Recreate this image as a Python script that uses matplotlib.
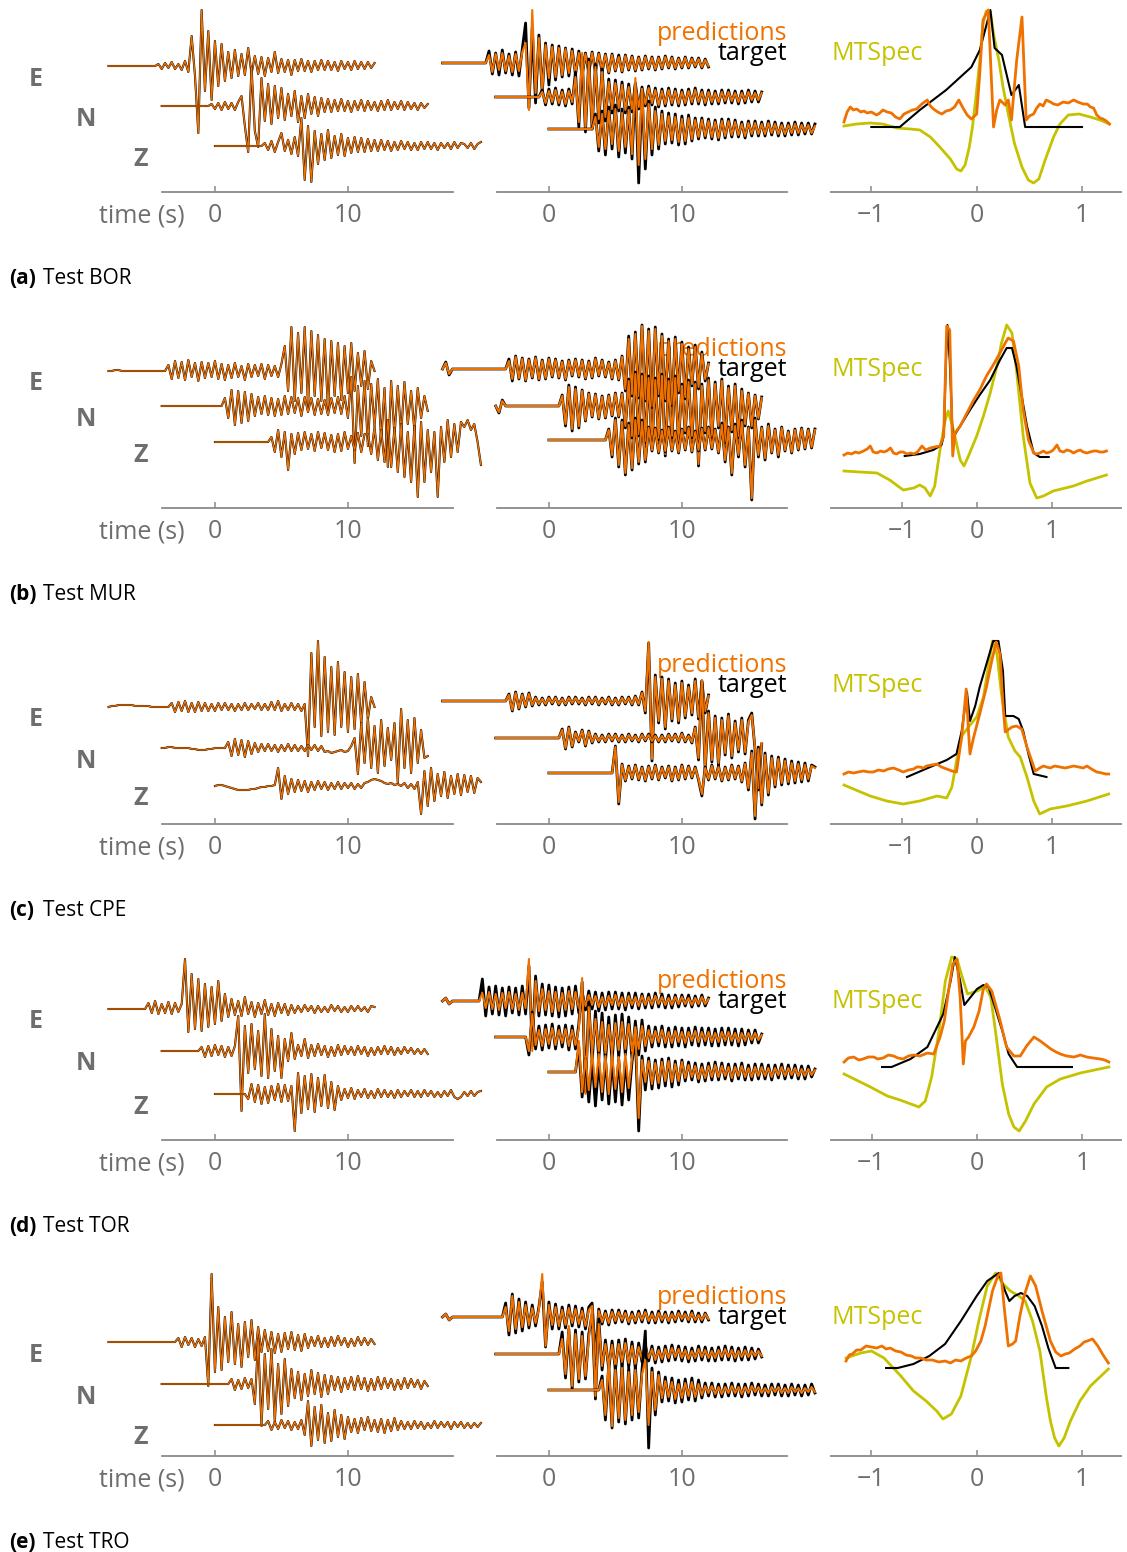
import numpy as np
import matplotlib.pyplot as plt

plt.rcParams['font.family'] = ['Open Sans', 'DejaVu Sans']

ORANGE = '#ef7100'
YELLOW = '#c5c300'
GREY = '#6e6e6e'
SPINE = '#8a8a8a'

W, H = 1127, 1552
DT = 0.25                  # sample spacing of the traces (s)
START = [-8.0, -4.0, 0.0]  # first sample time of E, N, Z

stations = ['BOR', 'MUR', 'CPE', 'TOR', 'TRO']
letters = ['a', 'b', 'c', 'd', 'e']

# ---------------- BOR ----------------
bor_wave = [
    [0, 0, 0, 0, 0, 0, 0, 0, 0, 0, 0, 0, 0, 0, 0,
     2, -3, 3, -2, 4, -3, 2, -4, 5, -6, 30, -10, -67, 56, -25, 35, -34, 25, -20, 22,
     -15, 14, -12, 16, -10, 12, -9, 18, -8, 10, -8, 9, -10, 8, -6, 14, -7, 7, -6, 6,
     -9, 6, -5, 7, -5, 5, -6, 5, -4, 6, -4, 5, -4, 4, -5, 5, -3, 4, -4, 5, -3, 4, -3, 4, -2, 3],
    [0, 0, 0, 0, 0, 0, 0, 0, 0, 0, 0, 0, 0, 0, 0,
     2, -3, 3, -4, 4, -3, 3, -4, 4, 10, -20, -46, 39, -25, -41, 28, -15, 22, -18,
     20, -12, 18, -14, 12, -10, 15, -16, 10, -12, 12, -8, 9, -10, 8, -6, 7, -6, 6, -5,
     7, -5, 5, -6, 5, -4, 6, -5, 5, -4, 4, -5, 5, -4, 6, -4, 4, -3, 5, -4, 4, -3, 3, -4, 3, -2, 2],
    [0, 0, 0, 0, 0, 0, 0, 0, 0, 0, 0, 0, 0, 0, 0,
     3, -4, 5, -6, 4, 13, -5, 6, -8, 9, -10, 28, -34, 20, -36, 15, -18, 12, -14, 16,
     -12, 10, -9, 12, -10, 8, -7, 9, -6, 8, -6, 7, -5, 6, -5, 6, -4, 5, -5, 4,
     -4, 5, -3, 4, -4, 3, -4, 4, -3, 4, -3, 3, -4, 3, -2, 3, -3, 4, -2, 3, 2, -2, 3, -3, 2, 4],
]
bor_pred = [
    [0, 0, 0, 0, 0, 0, 0, 0, 0, 0, 0, 0, 0, 0,
     8, -9, 9, -7, 10, -8, 7, -9, 9, -8, 11, 20, -47, 53, -30, 25, -28, 18, -15, 16, -14,
     15, -12, 14, -10, 12, -11, 10, -12, 9, -8, 10, -8, 9, -7, 8, -9, 8, -7, 6, -8,
     7, -6, 6, -7, 5, -6, 6, -5, 5, -6, 5, -5, 6, -4, 5, -5, 4, -4, 5, -4, 4, -3, 4, -4, 3, -3],
    [0, 0, 0, 0, 0, 0, 0, 0, 0, 0, 0, 0, 0, 0,
     5, -6, 6, -5, 7, -6, 5, -7, 6, -5, 20, -25, 44, -31, 35, -28, 30, -22, 25, -20,
     15, -12, 14, -11, 12, -13, 10, -12, 11, -10, 8, -7, 9, -6, 7, -8, 6, -7, 7, -6,
     6, -7, 5, -6, 6, -5, 7, -5, 5, -6, 5, -5, 4, -5, 5, -4, 5, -4, 4, -5, 4, -4, 5, -3, 4, -3, 4],
    [0, 0, 0, 0, 0, 0, 0, 0, 0, 0, 0, 0, 0, 0,
     12, -18, 15, -20, 18, -15, 20, -22, 16, -18, 19, -25, 51, -36, 40, -30, 25, -20, 18, -16, 15,
     -12, 13, -11, 12, -13, 10, -12, 11, -10, 9, -8, 9, -7, 8, -8, 7, -9, 8, -7, 8,
     -6, 7, -6, 5, -7, 6, -5, 6, -5, 5, -5, 6, -4, 5, -5, 4, -5, 4, -4, 5, -4, 4, -3, 4, -4, 3],
]
bor_true = [
    [0, 0, 0, 0, 0, 0, 0, 0, 0, 0, 0, 0, 0, 0,
     12, -11, 10, -12, 13, -10, 9, -12, 11, -13, 14, 40, -45, 35, -40, 28, -30, 20, -22, 18, -17,
     17, -14, 15, -13, 14, -12, 12, -13, 10, -10, 11, -9, 10, -9, 9, -10, 9, -8, 8, -9,
     8, -7, 7, -8, 6, -7, 7, -6, 6, -7, 6, -6, 7, -5, 6, -6, 5, -5, 6, -5, 5, -4, 5, -5, 4, -4],
    [0, 0, 0, 0, 0, 0, 0, 0, 0, 0, 0, 0, 0, 0,
     7, -8, 8, -7, 9, -8, 7, -9, 8, -7, 25, -30, 40, -35, 38, -32, 33, -26, 28, -24,
     18, -16, 17, -14, 15, -16, 13, -15, 14, -12, 10, -9, 11, -8, 9, -10, 8, -9, 9, -8,
     8, -9, 7, -8, 8, -7, 9, -7, 7, -8, 7, -7, 6, -7, 7, -6, 7, -6, 6, -7, 6, -6, 7, -5, 6, -5, 5],
    [0, 0, 0, 0, 0, 0, 0, 0, 0, 0, 0, 0, 0, 0,
     15, -22, 18, -26, 22, -20, 24, -28, 20, -24, 22, -30, 45, -54, 38, -40, 28, -26, 22, -20, 18,
     -15, 16, -14, 15, -16, 13, -15, 14, -12, 11, -10, 11, -9, 10, -10, 9, -11, 10, -9, 10,
     -8, 9, -8, 7, -9, 8, -7, 8, -7, 7, -7, 8, -6, 7, -7, 6, -7, 6, -6, 7, -6, 6, -5, 6, -5, 5],
]
bor_true_lag = [-1.0, -0.73, -0.54, -0.29, -0.05, 0.03, 0.13, 0.17, 0.24, 0.33, 0.40, 0.46, 1.0]
bor_true_xc = [65, 65, 82, 102, 125, 142, 182, 144, 137, 97, 107, 65, 65]
bor_pred_lag = [-1.26, -1.23, -1.2, -1.17, -1.14, -1.1, -1.07, -1.04, -1.0, -0.95,
                -0.92, -0.89, -0.85, -0.81, -0.77, -0.73, -0.69, -0.65, -0.61, -0.57,
                -0.52, -0.47, -0.44, -0.41, -0.37, -0.33, -0.29, -0.25, -0.21, -0.17,
                -0.13, -0.09, -0.05, 0.0, 0.03, 0.06, 0.11, 0.16, 0.19, 0.22,
                0.27, 0.3, 0.33, 0.38, 0.43, 0.47, 0.5, 0.54, 0.57, 0.6,
                0.63, 0.66, 0.7, 0.73, 0.77, 0.82, 0.87, 0.92, 0.96, 1.01,
                1.05, 1.08, 1.11, 1.14, 1.17, 1.2, 1.23, 1.26]
bor_pred_xc = [70, 80, 85, 82, 83, 80, 81, 79, 80, 77,
               79, 82, 80, 79, 75, 73, 78, 80, 82, 83,
               88, 92, 86, 83, 80, 78, 81, 82, 85, 92,
               84, 77, 73, 78, 120, 172, 182, 65, 82, 92,
               87, 92, 72, 132, 175, 72, 76, 78, 84, 88,
               86, 92, 90, 88, 87, 90, 89, 92, 90, 88,
               88, 85, 84, 77, 74, 73, 71, 68]
bor_mt_lag = [-1.26, -1.14, -1.01, -0.89, -0.76, -0.63, -0.54, -0.44, -0.35, -0.25, -0.19,
              -0.15, -0.11, -0.07, -0.04, -0.01, 0.03, 0.06, 0.09, 0.13, 0.16, 0.21, 0.25,
              0.30, 0.36, 0.43, 0.49, 0.54, 0.59, 0.65, 0.73, 0.79, 0.87, 0.97, 1.08, 1.17, 1.26]
bor_mt = [66, 68, 69, 68, 64, 63, 62, 55, 45, 33, 23, 21, 27, 45, 65, 92, 132, 168, 181, 180,
          158, 132, 105, 78, 48, 25, 12, 9, 13, 32, 55, 68, 77, 78, 75, 72, 68]

# ---------------- MUR ----------------
mur_wave = [
    [0, 0, 1, 1, 0, 0, 0, 0, 0, 0, 0, 0, 0, 0, 0, 0, 0, 0,
     6, -8, 10, -7, 9, -9, 11, -6, 8, -10, 9, -7, 8, -6, 10, -8, 7, -9, 6, -7,
     8, -6, 5, -9, 7, -6, 6, -5, 7, -8, 6, -5, 5, -6, 7,
     25, -20, 44, -30, 38, -22, 44, -35, 40, -25, 36, -30, 32, -39, 30, -25, 28, -29, 25, -22,
     28, -20, 18, -15, 20, -18, 10, 0],
    [0, 0, 0, 0, 0, 0, 0, 0, 0, 0, 0, 0, 0, 0, 0, 0, 0, 0, 0,
     8, -12, 16, -19, 15, -17, 14, -15, 12, -10, 9, -8, 10, -9, 8, -10, 7, -9, 10,
     -8, 9, -7, 8, -10, 9, -6, 8, -9, 7, -8, 6, -9, 8, -7, 9, -8, 10,
     -12, 29, -57, 20, -30, 25, -40, 22, -20, 27, -35, 18, -61, 25, -30, 20, -28, 24, -18, 15,
     -25, 18, -12, 10, -5],
    [0, 0, 0, 0, 0, 0, 0, 0, 0, 0, 0, 0, 0, 0, 0, 0, 0,
     5, -10, 12, -15, 10, -28, 8, -12, 9, -8, 10, -7, 8, -9, 10, -6, 9, -8, 7, -10,
     8, -9, 10, -7, 6, -8, 9, -10, 8,
     8, -12, 15, -18, 12, -20, 22, -25, 14, -30, 18, -35, 10, -40, 16, -55, 20, -40, 12, -30,
     10, -55, 15, -20, 22, -15, 18, -10, 20, 15, 22, 12, 18, 0, -23],
]
mur_pred = [
    [0, 6, -5, 0, 0, 0, 0, 0, 0, 0, 0, 0, 0, 0, 0, 0, 0, 0, 0, 0,
     8, -10, 12, -9, 10, -11, 9, -8, 11, -10, 8, -9, 10, -7, 9, -8, 7, -10, 8, -6,
     9, -7, 8, -9, 7, -8, 10, -6, 8, -7, 6, -9, 8, -10, 12,
     -20, 30, -25, 35, -27, 43, -30, 38, -37, 40, -25, 33, -30, 28, -35, 30, -22, 25, -28, 20,
     -15, 22, -18, 15, -10, 5],
    [0, -6, 5, 0, 0, 0, 0, 0, 0, 0, 0, 0, 0, 0, 0, 0, 0, 0, 0, 0,
     10, -18, 19, -23, 17, -20, 15, -14, 12, -10, 11, -12, 9, -11, 10, -9, 12, -10, 12,
     -20, 25, -30, 32, -28, 30, -35, 28, -40, 26, -32, 30, -48, 25, -30, 28, -35, 20, -25, 24,
     -30, 22, -58, 20, -25, 26, -30, 22, -20, 25, -35, 18, -24, 20, -30, 15, -18, 12, -20, 10,
     -12, 8],
    [0, 0, 0, 0, 0, 0, 0, 0, 0, 0, 0, 0, 0, 0, 0, 0, 0, 0,
     10, -15, 20, -25, 18, -33, 15, -28, 20, -22, 18, -20, 12, -10, 11, -12, 9, -11, 12, -10,
     8, -12, 10, -9, 12, -11, 8, -10, 11, -9, 12, -8, 10, -12, 15, -20, 12, -33, 14, -15,
     18, -25, 12, -58, 20, -15, 12, -18, 14, -12, 10, -15, 12, -10, 8, -12, 10, -9, 11, -8,
     10, -7, 10],
]
mur_true = [
    [0, 7, -6, 0, 0, 0, 0, 0, 0, 0, 0, 0, 0, 0, 0, 0, 0, 0, 0, 0,
     10, -12, 13, -10, 11, -12, 10, -9, 12, -11, 9, -10, 11, -8, 10, -9, 8, -11, 9, -7,
     10, -8, 9, -10, 8, -9, 11, -7, 9, -8, 7, -10, 9, -11, 13,
     -22, 33, -27, 37, -29, 44, -32, 40, -39, 42, -27, 35, -32, 30, -37, 32, -24, 27, -30, 22,
     -17, 24, -20, 17, -12, 6],
    [0, -7, 6, 0, 0, 0, 0, 0, 0, 0, 0, 0, 0, 0, 0, 0, 0, 0, 0, 0,
     11, -20, 21, -25, 19, -22, 16, -15, 13, -11, 12, -13, 10, -12, 11, -10, 13, -11, 13,
     -22, 27, -32, 34, -30, 32, -37, 30, -42, 28, -34, 32, -50, 27, -32, 30, -37, 22, -27, 26,
     -32, 24, -60, 22, -27, 28, -32, 24, -22, 27, -37, 20, -26, 22, -32, 17, -20, 13, -22, 11,
     -13, 9],
    [0, 0, 0, 0, 0, 0, 0, 0, 0, 0, 0, 0, 0, 0, 0, 0, 0, 0,
     11, -17, 22, -27, 20, -35, 17, -30, 22, -24, 20, -22, 13, -11, 12, -13, 10, -12, 13, -11,
     9, -13, 11, -10, 13, -12, 9, -11, 12, -10, 13, -9, 11, -13, 17, -22, 13, -35, 16, -17,
     20, -27, 13, -60, 22, -17, 13, -20, 16, -13, 11, -17, 13, -11, 9, -13, 11, -10, 12, -9,
     11, -8, 11],
]
mur_true_lag = [-0.96, -0.76, -0.58, -0.47, -0.44, -0.41, -0.39, -0.36, -0.32, -0.22, -0.09,
                0.04, 0.18, 0.31, 0.4, 0.47, 0.53, 0.6, 0.67, 0.76, 0.84, 0.96]
mur_true_xc = [52, 54, 58, 63, 72, 148, 183, 148, 70, 82, 98, 113, 128, 148, 160, 160, 142,
               112, 82, 55, 51, 51]
mur_pred_lag = [-1.77, -1.72, -1.67, -1.62, -1.57, -1.51, -1.46, -1.42, -1.38, -1.33,
                -1.28, -1.24, -1.2, -1.15, -1.11, -1.07, -1.02, -0.98, -0.93, -0.88,
                -0.84, -0.79, -0.73, -0.68, -0.62, -0.56, -0.49, -0.44, -0.4, -0.36,
                -0.32, -0.29, -0.22, -0.13, -0.04, 0.04, 0.13, 0.22, 0.31, 0.38,
                0.42, 0.49, 0.56, 0.62, 0.69, 0.76, 0.8, 0.84, 0.89, 0.93,
                0.98, 1.02, 1.07, 1.11, 1.16, 1.2, 1.25, 1.29, 1.34, 1.38,
                1.42, 1.47, 1.51, 1.56, 1.6, 1.64, 1.69, 1.73]
mur_pred_xc = [53, 55, 54, 56, 55, 57, 59, 62, 56, 55,
               57, 56, 57, 60, 55, 54, 56, 56, 54, 55,
               54, 56, 62, 58, 60, 61, 62, 72, 182, 178,
               52, 75, 82, 95, 108, 118, 132, 143, 155, 165,
               170, 167, 142, 98, 68, 55, 54, 55, 57, 55,
               56, 58, 63, 57, 56, 58, 57, 55, 57, 58,
               56, 55, 56, 57, 57, 56, 56, 57]
mur_mt_lag = [-1.77, -1.56, -1.33, -1.16, -0.98, -0.84, -0.76, -0.69, -0.62, -0.56, -0.49,
              -0.42, -0.38, -0.31, -0.22, -0.17, -0.11, 0.0, 0.09, 0.18, 0.27, 0.33, 0.4,
              0.47, 0.53, 0.62, 0.71, 0.8, 0.89, 1.02, 1.29, 1.47, 1.73]
mur_mt = [37, 36, 35, 28, 18, 20, 23, 20, 12, 22, 58, 88, 97, 78, 48, 42, 52, 72, 92, 115,
          142, 165, 183, 175, 138, 72, 25, 10, 12, 17, 22, 27, 33]

# ---------------- CPE ----------------
cpe_wave = [
    [0, 1, 1, 2, 2, 2, 2, 2, 1, 1, 1, 1, 1, 0, 0, 0, 0, 0, 0,
     4, -5, 5, -4, 6, -5, 4, -5, 5, -4, 4, -4, 3, -4, 4, -3, 4, -3, 3, -4,
     3, -3, 4, -3, 3, -2, 4, -3, 3, -3, 5, -3, 6, -4, 3, -3, 4, -3, 3, -4, 3,
     -49, 54, -20, 66, -29, 50, -25, 40, -28, 45, -20, 35, -25, 30, -22, 33, -18, 25, -12, 10, 0],
    [0, 0, 1, 1, 0, 0, 0, 0, 0, -1, -1, -2, -2, -2, -1, -1, 0, 0, 0, 0,
     6, -8, 9, -7, 8, -9, 7, -6, 5, -4, 4,
     -3, 4, -3, 3, -4, 3, -3, 4, -3, 3, -3, 2, -3, 3, -2, 3, -3, 2, -4, -3,
     -5, -4, -3, -2, -4, -3, 2,
     10, -26, 25, -15, 30, -20, 22, -25, 28, -18, 20, -12, 25, -35, 39, -20, 28, -25, 30, -15,
     18, -10, -8],
    [0, 1, 1, 0, -1, -2, -3, -4, -4, -4, -4, -3, -3, -2, -1, -1, 0, 0, 1,
     18, -13, 10, -8, 7, -6, 6, -5, 5, -6, 4, -4, 5, -3, 4, -4, 3, -3, 4, -3,
     3, -2, 3, -3, 2, -2, 3, 4, 6, 7, 6, 5, 3, 2, 3, 1, 2, 0, 3, -2, 2, -3, 4,
     -28, 15, -20, 18, -15, 12, -10, 14, -12, 10, -8, 12, -9, 11, -6, 10, -7, 8, 4],
]
cpe_pred = [
    [0, 0, 0, 0, 0, 0, 0, 0, 0, 0, 0, 0, 0, 0, 0, 0, 0, 0, 0, 0,
     6, -9, 8, -7, 6, -5, 7, -4, 3,
     -3, 2, -3, 3, -2, 3, -3, 2, -3, 3, -2, 3, -2, 2, -3, 3, -2, 3, -3, 2,
     -2, 3, -3, 2, -3, 3, -2, 3, -3, 4, -3,
     8, -10, 59, -58, 24, -20, 22, -26, 20, -18, 16, -20, 18, -15, 14, -12, 20, -16, 18, -10, 5],
    [0, 0, 0, 0, 0, 0, 0, 0, 0, 0, 0, 0, 0, 0, 0, 0, 0, 0, 0, 0,
     8, -10, 10, -8, 5, -3, 7, -7, 6, -4,
     3, -3, 2, -3, 3, -2, 3, -3, 2, -3, 3, -2, 2, -3, 3, -2, 3, -3, 2, -3,
     2, -3, 3, -2, 3, -3, 4, -3, 2, -4,
     10, -20, 58, -30, 25, -22, 20, -25, 18, -15, 22, -18, 15, -12, 18, -14, 16, 23, -10, -50, -5],
    [0, 0, 0, 0, 0, 0, 0, 0, 0, 0, 0, 0, 0, 0, 0, 0, 0, 0, 0, 0,
     26, -29, 8, -7, 6, -5, 7, -6, 5, -7, 6, -5, 7, -6, 5, -4, 6, -7, 5, -6,
     7, -5, 6, -4, 5, -6, -21, 5, -6, 7, -5, 6, -7, 5, -6, 7, -5, 6, -8, 9,
     -15, 20, -43, 24, -30, 18, -20, 15, -12, 14, -10, 12, -9, 10, -8, 9, -7, 8, -6, 7, 5],
]
cpe_true = [
    [0, 0, 0, 0, 0, 0, 0, 0, 0, 0, 0, 0, 0, 0, 0, 0, 0, 0, 0, 0,
     7, -10, 9, -8, 7, -6, 8, -5, 4,
     -4, 3, -4, 4, -3, 4, -4, 3, -4, 4, -3, 4, -3, 3, -4, 4, -3, 4, -4, 3,
     -3, 4, -4, 3, -4, 4, -3, 4, -4, 5, -4,
     9, -12, 58, -60, 26, -22, 24, -28, 22, -20, 18, -22, 20, -17, 16, -14, 22, -18, 20, -12, 6],
    [0, 0, 0, 0, 0, 0, 0, 0, 0, 0, 0, 0, 0, 0, 0, 0, 0, 0, 0, 0,
     9, -11, 11, -9, 6, -4, 8, -8, 7, -5,
     4, -4, 3, -4, 4, -3, 4, -4, 3, -4, 4, -3, 3, -4, 4, -3, 4, -4, 3, -4,
     3, -4, 4, -3, 4, -4, 5, -4, 3, -5,
     11, -22, 57, -32, 27, -24, 22, -27, 20, -17, 24, -20, 17, -14, 20, -16, 18, 25, -12, -52, -6],
    [0, 0, 0, 0, 0, 0, 0, 0, 0, 0, 0, 0, 0, 0, 0, 0, 0, 0, 0, 0,
     27, -31, 9, -8, 7, -6, 8, -7, 6, -8, 7, -6, 8, -7, 6, -5, 7, -8, 6, -7,
     8, -6, 7, -5, 6, -7, -23, 6, -7, 8, -6, 7, -8, 6, -7, 8, -6, 7, -9, 10,
     -17, 22, -46, 26, -32, 20, -22, 17, -14, 16, -12, 14, -11, 12, -10, 11, -9, 10, -8, 8, 6],
]
cpe_true_lag = [-0.93, -0.62, -0.4, -0.27, -0.2, -0.13, -0.09, -0.02, 0.04, 0.13, 0.22, 0.29,
                0.35, 0.38, 0.49, 0.56, 0.62, 0.69, 0.76, 0.93]
cpe_true_xc = [47, 57, 64, 70, 93, 132, 103, 118, 137, 160, 183, 183, 153, 108, 108, 105, 93,
               70, 50, 47]
cpe_pred_lag = [-1.77, -1.71, -1.64, -1.58, -1.51, -1.44, -1.38, -1.31, -1.24, -1.18,
                -1.11, -1.04, -0.98, -0.91, -0.84, -0.8, -0.76, -0.71, -0.67, -0.6,
                -0.53, -0.47, -0.4, -0.33, -0.27, -0.2, -0.14, -0.11, -0.09, -0.04,
                0.04, 0.13, 0.2, 0.26, 0.31, 0.35, 0.38, 0.47, 0.53, 0.6,
                0.67, 0.78, 0.84, 0.89, 0.93, 0.98, 1.04, 1.11, 1.18, 1.24,
                1.29, 1.36, 1.42, 1.47, 1.53, 1.6, 1.67, 1.72, 1.76]
cpe_pred_xc = [50, 52, 51, 52, 53, 52, 52, 54, 53, 55,
               56, 54, 52, 54, 55, 57, 57, 56, 58, 59,
               60, 57, 55, 53, 52, 87, 135, 93, 70, 87,
               110, 137, 163, 182, 170, 120, 92, 97, 98, 95,
               77, 53, 56, 58, 57, 56, 58, 57, 56, 57,
               58, 57, 56, 58, 55, 52, 51, 50, 50]
cpe_mt_lag = [-1.77, -1.42, -1.2, -0.98, -0.76, -0.53, -0.4, -0.33, -0.27, -0.2, -0.11, 0.0,
              0.09, 0.16, 0.21, 0.27, 0.33, 0.42, 0.51, 0.58, 0.67, 0.76, 0.84, 0.98, 1.2,
              1.47, 1.76]
cpe_mt = [39, 28, 23, 20, 23, 28, 26, 37, 63, 88, 97, 107, 127, 160, 183, 170, 130, 87, 73,
          67, 47, 23, 10, 15, 18, 23, 30]

# ---------------- TOR ----------------
tor_wave = [
    [0, 0, 0, 0, 0, 0, 0, 0, 0, 0, 0, 0,
     6, -4, 8, -5, 5, -4, 7, -5, 6, -3, 5,
     50, -23, 35, -20, 30, -22, 25, -18, 22, -15, 28, -12, 15,
     -8, 10, -6, 8, -7, 12, -5, 7, -8, 6, -5, 9, -6, 5, -7, 6, -4, 5, -6, 4,
     -4, 3, -3, 4, -2, 3, -4, 3, -3, 2, -3, 4, -2, 3, -3, 2, -3, 3, -2, 3, -2, 2, -3, 3, 2],
    [0, 0, 0, 0, 0, 0, 0, 0, 0, 0, 0, 0,
     4, -6, 5, -5, 6, -4, 5, -6, 4, -5, 5,
     35, -60, 25, -22, 27, -18, 20, -25, 37, -27, 22, -20, 15, -27, 12,
     -10, 18, -8, 6, -5, 12, -7, 6, -5, 7, -4, 5, -6, 4, -5, 6, -4, 5, -3, 4,
     -4, 5, -3, 4, -5, 3, -4, 4, -3, 5, -3, 4, -4, 3, -3, 4, -2, 3, -3, 2, -3, 2, -3],
    [0, 0, 0, 0, 0, 0, 0, 0, 0, 0,
     -5, 10, -8, 9, -10, 7, -9, 8, -6, 10, -8, 9, -7, 8,
     -37, 21, -19, 18, -15, 20, -18, 16, -12, 19, -14, 12, -16,
     8, -6, 5, -4, 6, -5, 4, -3, 5, -4, 3, -4, 5, -3, 4, -3, 3, -4, 4, -3,
     3, -2, 4, -3, 3, -3, 4, -2, 3, -3, 2, -3, 3, -2, 4, -3, -5, -3, 2, -2, 3, -2, 2, 3],
]
tor_pred = [
    [0, 3, -3, 0, 0, 0, 0, 0, 0, 0, 0, 0,
     8, -7, 9, -8, 7, -9, 8, -7, 9, -8, 7, -9, 8, -7, 42, -50, 20,
     -10, 12, -9, 10, -11, 9, -10, 8, -9, 10, -8, 9, -7,
     6, -5, 6, -4, 5, -6, 4, -5, 5, -4, 6, -5, 4, -5, 5, -4, 4, -5, 5, -4,
     4, -4, 5, -3, 4, -4, 3, -4, 4, -3, 4, -3, 3, -4, 3, -3, 4, -3, 2],
    [0, 0, 0, 0, 0, 0, 0, 0, 0, 0,
     -14, 23, -8, 7, -9, 8, -7, 9, -8, 7, -6, 8, -9, 7, -8, 9, 59, -57, 30,
     -15, 18, -14, 15, -16, 12, -15, 14, -13, 15, -12, 13, -14, 10, -12, 11, -9,
     7, -6, 6, -5, 7, -6, 5, -6, 6, -5, 5, -6, 5, -4, 6, -5, 5, -4, 5, -5,
     4, -5, 5, -4, 5, -4, 4, -5, 4, -4, 4, -3, 4, -3, 2],
    [0, 0, 0, 0, 0, 0, 0, 0, 0, 31, -20,
     15, -18, 20, -15, 18, -20, 16, -22, 19, -17, 15, -20, 18, -16, 14, 41, -46,
     12, -10, 11, -12, 9, -11, 10, -9, 11, -10, 8, -9, 10,
     -6, 7, -5, 6, -7, 5, -6, 6, -5, 7, -5, 6, -4, 5, -6, 5, -4, 6, -5, 4,
     -5, 5, -4, 5, -4, 4, -5, 4, -3, 5, -4, 4, -3, 4, -4, 3, -4, 3, -3, 2],
]
tor_true = [
    [0, 3, -3, 0, 0, 0, 0, 0, 0, 0, 0, 0,
     22, -15, 14, -13, 15, -14, 13, -15, 14, -12, 13, -14, 15, -13, 35, -45, 25,
     -15, 17, -14, 16, -15, 14, -16, 13, -15, 14, -13, 15, -12,
     10, -9, 10, -8, 9, -10, 8, -9, 9, -8, 9, -8, 8, -9, 8, -7, 8, -8, 7, -7,
     7, -7, 8, -6, 7, -7, 6, -7, 6, -6, 6, -5, 6, -6, 5, -5, 6, -5, 3],
    [0, 0, 0, 0, 0, 0, 0, 0, 0, 0,
     -18, 25, -12, 11, -13, 12, -11, 13, -12, 11, -10, 12, -13, 11, -12, 13, 55, -55, 35,
     -25, 26, -22, 24, -25, 20, -24, 22, -20, 23, -18, 20, -22, 16, -18, 17, -14,
     11, -10, 10, -9, 11, -10, 9, -10, 10, -9, 9, -10, 9, -8, 10, -9, 9, -8, 9, -9,
     8, -9, 9, -8, 9, -8, 8, -9, 8, -8, 7, -6, 7, -6, 3],
    [0, 0, 0, 0, 0, 0, 0, 0, 0, 25, -25,
     14, -30, 12, -34, 10, -28, 14, -32, 12, -30, 13, -33, 12, -28, 10, 35, -59,
     16, -18, 14, -17, 12, -16, 13, -14, 14, -15, 11, -13, 12,
     -9, 10, -8, 9, -10, 8, -9, 9, -8, 10, -8, 9, -7, 8, -9, 8, -7, 9, -8, 7,
     -8, 8, -7, 8, -7, 7, -8, 7, -6, 8, -7, 7, -6, 7, -7, 6, -7, 6, -5, 3],
]
tor_true_lag = [-0.9, -0.81, -0.63, -0.47, -0.32, -0.25, -0.21, -0.16, -0.12, -0.06, 0.0,
                0.06, 0.11, 0.17, 0.24, 0.3, 0.38, 0.9]
tor_true_xc = [73, 73, 81, 93, 126, 159, 183, 159, 135, 143, 151, 155, 153, 133, 109, 86, 73,
               73]
tor_pred_lag = [-1.26, -1.22, -1.17, -1.12, -1.08, -1.03, -0.98, -0.94, -0.89, -0.84,
                -0.79, -0.75, -0.7, -0.65, -0.6, -0.54, -0.47, -0.41, -0.35, -0.31,
                -0.27, -0.23, -0.19, -0.16, -0.13, -0.11, -0.08, -0.03, 0.02, 0.06,
                0.09, 0.14, 0.22, 0.28, 0.35, 0.41, 0.47, 0.54, 0.6, 0.65,
                0.7, 0.75, 0.79, 0.85, 0.92, 0.98, 1.04, 1.1, 1.17, 1.21, 1.25]
tor_pred_xc = [78, 82, 83, 80, 81, 83, 83, 81, 82, 85,
               84, 82, 81, 84, 85, 84, 87, 86, 103, 119,
               149, 176, 181, 143, 76, 99, 103, 113, 129, 151,
               156, 149, 119, 93, 84, 84, 94, 103, 99, 95,
               91, 88, 86, 84, 83, 85, 83, 82, 81, 80, 78]
tor_mt_lag = [-1.26, -1.01, -0.85, -0.73, -0.55, -0.49, -0.43, -0.36, -0.3, -0.24, -0.19,
              -0.14, -0.09, 0.0, 0.08, 0.13, 0.17, 0.24, 0.3, 0.35, 0.4, 0.46, 0.54, 0.66,
              0.79, 0.98, 1.25]
tor_mt = [66, 53, 44, 40, 33, 39, 63, 109, 159, 183, 181, 163, 146, 149, 153, 143, 113, 56,
          26, 13, 9, 19, 36, 53, 61, 67, 73]

# ---------------- TRO ----------------
tro_wave = [
    [0, 0, 0, 0, 0, 0, 0, 0, 0, 0, 0, 0, 0, 0, 0, 0, 0, 0, 0, 0, 0,
     4, -5, 5, -3, 4, -5, 3, -4, 5,
     -44, 68, -30, 35, -28, 25, -20, 30, -22, 18, -25, 20, -15, 22, -18, 15,
     -10, 12, -9, 10, -11, 8, -10, 9, -7, 10, -8, 7, -9, 8, -6,
     5, -4, 6, -5, 4, -5, 5, -4, 6, -3, 4, -5, 3, -4, 5, -3, 4, -3, 3, -2],
    [0, 0, 0, 0, 0, 0, 0, 0, 0, 0, 0, 0, 0, 0, 0, 0, 0, 0, 0, 0, 0,
     5, -6, 4, -5, 6, -4, 5,
     -20, 45, -42, 30, -25, 35, -38, 20, -30, 25, -22,
     15, -14, 12, -16, 10, -12, 14, -10, 11, -13, 9, -10,
     8, -6, 7, -8, 6, -5, 7, -6, 8, -5, 6, -7, 5, -6, 7, -5, 6, -4, 5, -6,
     4, -5, 6, -4, 5, -3, 4, -5, 3, -2],
    [0, 0, 0, 0, 0, 0, 0, 0, 0, 0, 0, 0, 0, 0, 0, 0,
     4, -5, 3, -4, 5, -3, 4, -5, 3, -4, 5,
     -10, 24, -21, 18, -15, 20, -18, 12, -16, 15, -12, 10, -14,
     8, -7, 6, -8, 7, -5, 8, -6, 5, -7, 6, -8, 5, -6, 7, -5, 4,
     -4, 3, -4, 4, -3, 3, -4, 2, -3, 4, -3, 3, -2, 3, -4, 3, -2, 3, -3, 2, -3, 2, -2, 2],
]
tro_pred = [
    [0, 3, -3, 0, 0, 0, 0, 0, 0, 0, 0, 0, 0, 0, 0, 0, 0, 0, 0,
     10, -14, 21, -12, 15, -10, 12, -8, 9, -6, 8, 43, -29,
     12, -8, 10, -9, 7, -8, 9, -6, 8, -7, 6, -9, 7, 11, -42,
     6, -5, 4, -6, 5, -4, 5, -3, 4, -5, 3, -4, 4, -3, 5, -4, 3, -4, 4, -3,
     3, -4, 3, -3, 4, -2, 3, -3, 4, -3, 2, -3, 3, -2],
    [0, 0, 0, 0, 0, 0, 0, 0, 0, 0, 0, 0, 0, 0, 0, 0, 0, 0, 0, 0,
     15, -20, 28, -32, 20, -25, 18, -22, 15, 46, -42, 30,
     -12, 10, -11, 9, -12, 10, -8, 11, -9, 8, -10, 7,
     -5, 6, -4, 5, -6, 4, -5, 5, -4, 6, -3, 5, -4, 4, -5, 3, -4, 5, -3, 4,
     -4, 3, -4, 4, -3, 5, -3, 4, -4, 3, -3, 4, -3, 3, -2, 3, -2],
    [0, 0, 0, 0, 0, 0, 0, 0, 0, 0, 0, 0, 0, 0, 0, 0,
     10, -25, 29, -36, 20, -28, 22, -30, 18, -25, 20, -22, 16, 30, -35, 18, -20, 15,
     -8, 9, -7, 8, -9, 6, -8, 7, -6, 8, -7, 6, -5,
     4, -3, 4, -4, 3, -4, 3, -3, 4, -3, 3, -4, 3, -3, 4, -2, 3, -3, 2, -3,
     3, -2, 3, -3, 2, -3, 3, -2, 2, -3, 2, -2, 3, -2],
]
tro_true = [
    [0, 3, -3, 0, 0, 0, 0, 0, 0, 0, 0, 0, 0, 0, 0, 0, 0, 0, 0,
     14, -18, 23, -16, 18, -14, 15, -11, 12, -9, 10, 35, -30,
     15, -12, 13, -12, 10, -11, 12, -9, 11, -10, 9, -12, 10, 14, -40,
     8, -7, 6, -8, 7, -6, 7, -5, 6, -7, 5, -6, 6, -5, 7, -6, 5, -6, 6, -5,
     5, -6, 5, -5, 6, -4, 5, -5, 6, -5, 4, -5, 4, -3],
    [0, 0, 0, 0, 0, 0, 0, 0, 0, 0, 0, 0, 0, 0, 0, 0, 0, 0, 0, 0,
     22, -24, 25, -35, 24, -28, 22, -25, 20, 40, -45, 35,
     -16, 14, -15, 13, -16, 14, -12, 15, -13, 12, -14, 11,
     -8, 9, -7, 8, -9, 7, -8, 8, -7, 9, -6, 8, -7, 7, -8, 6, -7, 8, -6, 7,
     -7, 6, -7, 7, -6, 8, -6, 7, -7, 6, -6, 7, -6, 6, -5, 5, -3],
    [0, 0, 0, 0, 0, 0, 0, 0, 0, 0, 0, 0, 0, 0, 0, 0,
     14, -30, 25, -38, 24, -32, 26, -34, 22, -30, 24, -28, 20, 59, -58, 22, -25, 18,
     -12, 13, -11, 12, -13, 10, -12, 11, -10, 12, -11, 10, -8,
     7, -6, 7, -7, 6, -7, 6, -6, 7, -6, 6, -7, 6, -6, 7, -5, 6, -6, 5, -6,
     6, -5, 6, -6, 5, -6, 6, -5, 5, -6, 5, -5, 6, -3],
]
tro_true_lag = [-0.86, -0.75, -0.6, -0.45, -0.3, -0.15, 0.0, 0.1, 0.21, 0.27, 0.31, 0.36,
                0.42, 0.48, 0.55, 0.62, 0.68, 0.75, 0.87]
tro_true_xc = [88, 88, 92, 100, 112, 135, 160, 175, 183, 165, 155, 160, 163, 160, 150, 130,
               108, 88, 88]
tro_pred_lag = [-1.24, -1.21, -1.18, -1.14, -1.1, -1.05, -1.0, -0.95, -0.9, -0.86,
                -0.82, -0.77, -0.72, -0.67, -0.62, -0.58, -0.53, -0.48, -0.42, -0.36,
                -0.3, -0.25, -0.2, -0.15, -0.1, -0.05, -0.01, 0.04, 0.08, 0.15,
                0.2, 0.23, 0.26, 0.3, 0.34, 0.37, 0.41, 0.45, 0.51, 0.56,
                0.62, 0.7, 0.75, 0.8, 0.84, 0.88, 0.93, 0.98, 1.02, 1.05,
                1.1, 1.15, 1.2, 1.25]
tro_pred_xc = [95, 101, 102, 106, 106, 110, 109, 108, 110, 107,
               108, 105, 104, 101, 100, 98, 98, 96, 96, 94,
               95, 93, 96, 95, 98, 100, 105, 115, 130, 165,
               180, 183, 150, 110, 112, 115, 140, 160, 180, 170,
               145, 115, 104, 100, 102, 103, 107, 110, 114, 115,
               117, 110, 101, 93]
tro_mt_lag = [-1.24, -1.1, -1.0, -0.88, -0.72, -0.6, -0.48, -0.38, -0.32, -0.24, -0.15, -0.05,
              0.02, 0.1, 0.18, 0.25, 0.32, 0.4, 0.46, 0.53, 0.6, 0.66, 0.7, 0.74, 0.78, 0.83,
              0.89, 0.98, 1.08, 1.18, 1.25]
tro_mt = [98, 103, 105, 98, 80, 65, 55, 45, 37, 42, 60, 100, 135, 170, 183, 172, 165, 160,
          155, 135, 105, 60, 35, 18, 10, 18, 35, 55, 70, 80, 87]

# ---------------- layout (pixels) ----------------
ROW_STEP = 316
SPINE_Y0 = 192
left_base = [[126, 86, 46], [137, 102, 66], [117, 76, 38], [131, 89, 46], [114, 72, 31]]
mid_base = [[129, 95, 63], [139, 102, 68], [123, 86, 51], [139, 103, 68], [139, 102, 66]]
right_xlim = [(-1.383, 1.37), (-1.943, 1.924), (-1.943, 1.924), (-1.384, 1.365), (-1.383, 1.37)]
label_x = [36, 86, 141]

waves = [bor_wave, mur_wave, cpe_wave, tor_wave, tro_wave]
preds = [bor_pred, mur_pred, cpe_pred, tor_pred, tro_pred]
trues = [bor_true, mur_true, cpe_true, tor_true, tro_true]
xcorr = [
    (bor_true_lag, bor_true_xc, bor_pred_lag, bor_pred_xc, bor_mt_lag, bor_mt),
    (mur_true_lag, mur_true_xc, mur_pred_lag, mur_pred_xc, mur_mt_lag, mur_mt),
    (cpe_true_lag, cpe_true_xc, cpe_pred_lag, cpe_pred_xc, cpe_mt_lag, cpe_mt),
    (tor_true_lag, tor_true_xc, tor_pred_lag, tor_pred_xc, tor_mt_lag, tor_mt),
    (tro_true_lag, tro_true_xc, tro_pred_lag, tro_pred_xc, tro_mt_lag, tro_mt),
]

fig = plt.figure(figsize=(W / 100, H / 100), dpi=100)


def px_axes(x0, x1, spine):
    top = spine - 190
    return fig.add_axes([x0 / W, 1 - spine / H, (x1 - x0) / W, (spine - top) / H])


def style(ax, xlim, ticks):
    ax.set_xlim(*xlim)
    ax.set_ylim(0, 190)
    for s in ['top', 'left', 'right']:
        ax.spines[s].set_visible(False)
    ax.spines['bottom'].set_color(SPINE)
    ax.spines['bottom'].set_linewidth(1.3)
    ax.set_yticks([])
    ax.set_xticks(ticks)
    ax.tick_params(axis='x', direction='in', length=4, width=1.1, color=SPINE,
                   labelsize=18, labelcolor=GREY, pad=8)
    ax.patch.set_visible(False)


def trace_time(k, vals):
    return START[k] + DT * np.arange(len(vals))


for r in range(5):
    spine = SPINE_Y0 + ROW_STEP * r

    # raw waveforms: target (black) under prediction (orange)
    axl = px_axes(162, 453, spine)
    style(axl, (-3.98, 17.9), [0, 10])
    for k in range(3):
        vals = np.array(waves[r][k])
        t = trace_time(k, vals)
        axl.plot(t, left_base[r][k] + vals, color='black', lw=1.5, clip_on=False, zorder=2)
        axl.plot(t, left_base[r][k] + vals, color=ORANGE, lw=1.0, clip_on=False, zorder=2)

    # processed waveforms
    axm = px_axes(497, 787, spine)
    style(axm, (-3.9, 17.9), [0, 10])
    for k in range(3):
        tv = np.array(trues[r][k])
        pv = np.array(preds[r][k])
        axm.plot(trace_time(k, tv), mid_base[r][k] + tv, color='black', lw=2.0,
                 clip_on=False, zorder=2)
        axm.plot(trace_time(k, pv), mid_base[r][k] + pv, color=ORANGE, lw=1.5,
                 clip_on=False, zorder=2)
    axm.text(787 / W, 1 - (spine - 158) / H, 'predictions', color=ORANGE, fontsize=18,
             ha='right', va='center', transform=fig.transFigure, zorder=1)
    axm.text(787 / W, 1 - (spine - 139) / H, 'target', color='black', fontsize=18,
             ha='right', va='center', transform=fig.transFigure, zorder=1)

    # cross-correlation / MTSpec comparison
    axr = px_axes(831, 1121, spine)
    style(axr, right_xlim[r], [-1, 0, 1])
    tl, tx, pl, px, ml, mt = xcorr[r]
    axr.plot(ml, mt, color=YELLOW, lw=2.0, solid_joinstyle='round')
    axr.plot(tl, tx, color='black', lw=1.5)
    axr.plot(pl, px, color=ORANGE, lw=2.0)
    axr.text(832 / W, 1 - (spine - 139) / H, 'MTSpec', color=YELLOW, fontsize=18,
             ha='left', va='center', transform=fig.transFigure)

    # labels
    fig.text(185 / W, 1 - (spine + 24) / H, 'time (s)', color=GREY, fontsize=18,
             ha='right', va='center')
    for k, comp in enumerate(['E', 'N', 'Z']):
        fig.text(label_x[k] / W, 1 - (spine - left_base[r][k] + 13) / H, comp, color=GREY,
                 fontsize=18, fontweight='bold', ha='center', va='center')
    fig.text(9 / W, 1 - (spine + 86) / H, '(%s)' % letters[r], fontsize=15,
             fontweight='bold', ha='left', va='center')
    fig.text(43 / W, 1 - (spine + 86) / H, 'Test %s' % stations[r], fontsize=15,
             ha='left', va='center')

fig.savefig('out.png', dpi=100)
